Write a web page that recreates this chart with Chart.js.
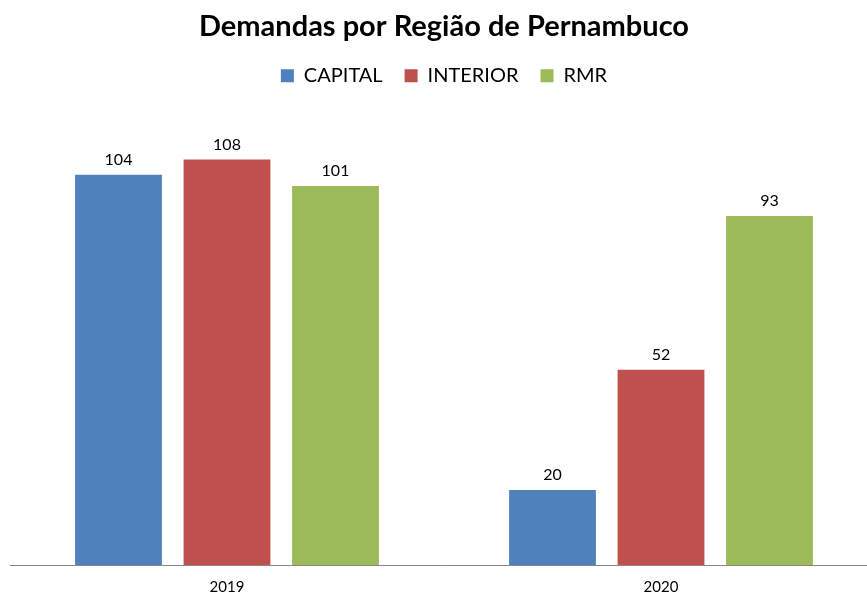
<!DOCTYPE html>
<html>
<head>
<meta charset="utf-8">
<script src="https://cdn.jsdelivr.net/npm/chart.js@4"></script>
<style>
  html, body { margin: 0; padding: 0; background: #fff; overflow: hidden; }
  #wrap { position: relative; width: 888px; height: 595px; }
</style>
</head>
<body>
<div id="wrap"><canvas id="demandas"></canvas></div>
<script>
// Demandas por região - 2019 x 2020
const years = ['2019', '2020'];
const capital = [104, 20];
const interior = [108, 52];
const rmr = [101, 93];

// prints the value just above each bar
const valueLabels = {
  id: 'valueLabels',
  afterDatasetsDraw(chart) {
    const ctx = chart.ctx;
    ctx.save();
    ctx.font = '16px Lato, "Open Sans", sans-serif';
    ctx.fillStyle = '#000';
    ctx.textAlign = 'center';
    ctx.textBaseline = 'bottom';
    chart.data.datasets.forEach((ds, i) => {
      chart.getDatasetMeta(i).data.forEach((bar, j) => {
        ctx.fillText(ds.data[j], bar.x, bar.y - 7);
      });
    });
    ctx.restore();
  }
};

new Chart(document.getElementById('demandas'), {
  type: 'bar',
  data: {
    labels: years,
    datasets: [
      { label: 'CAPITAL', data: capital, backgroundColor: '#4F81BD' },
      { label: 'INTERIOR', data: interior, backgroundColor: '#C0504D' },
      { label: 'RMR', data: rmr, backgroundColor: '#9BBB59' }
    ]
  },
  options: {
    responsive: true,
    maintainAspectRatio: false,
    animation: false,
    layout: { padding: { left: 10, right: 10, top: 0, bottom: 0 } },
    datasets: {
      bar: { categoryPercentage: 0.75, barPercentage: 0.8 }
    },
    plugins: {
      title: {
        display: true,
        text: 'Demandas por Região de Pernambuco',
        color: '#000',
        font: { family: 'Lato, "Open Sans", sans-serif', size: 29, weight: 'bold' },
        padding: { top: 9, bottom: 0 }
      },
      legend: {
        position: 'top',
        labels: {
          color: '#000',
          boxWidth: 13,
          boxHeight: 13,
          padding: 22,
          font: { family: 'Lato, "Open Sans", sans-serif', size: 20 }
        }
      },
      tooltip: { enabled: false }
    },
    scales: {
      x: {
        grid: { display: false, drawTicks: false },
        border: { color: '#868686', width: 1 },
        ticks: {
          color: '#000',
          padding: 13,
          font: { family: 'Lato, "Open Sans", sans-serif', size: 15 }
        },
        afterFit(scale) { scale.height = 30; }
      },
      y: {
        display: false,
        min: 0,
        max: 125
      }
    }
  },
  plugins: [valueLabels]
});
</script>
</body>
</html>
